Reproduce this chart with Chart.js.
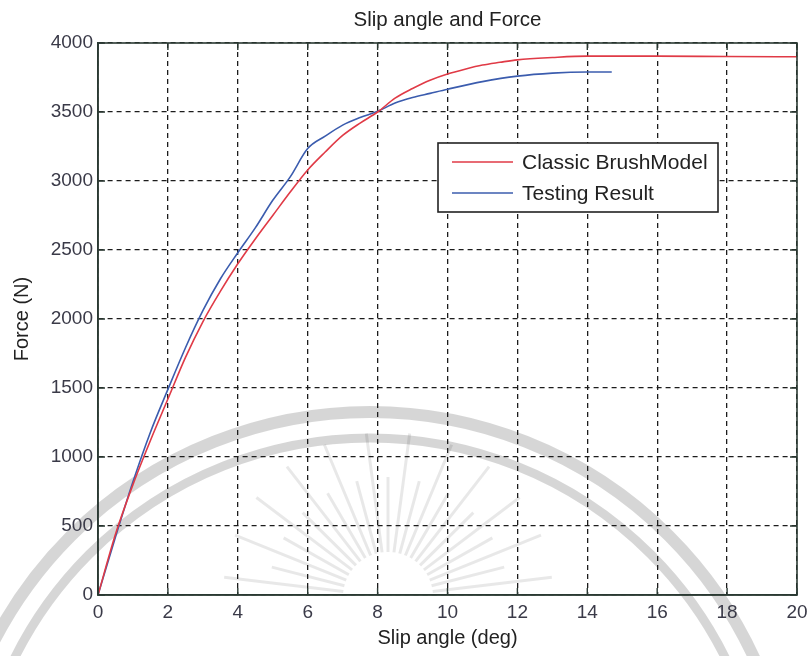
<!DOCTYPE html>
<html>
<head>
<meta charset="utf-8">
<title>Slip angle and Force</title>
<script src="https://cdn.jsdelivr.net/npm/chart.js@4/dist/chart.umd.min.js"></script>
<style>
  html, body { margin: 0; padding: 0; background: #fff; }
  #wrap { width: 807px; height: 656px; }
</style>
</head>
<body>
<div id="wrap"><canvas id="forceChart" width="807" height="656"></canvas></div>
<script>
// Classic brush model curve
const brushSlip  = [0, 0.5, 1, 1.5, 2, 2.5, 3, 3.5, 4, 4.5, 5, 5.5, 6, 6.5, 7, 7.5, 8, 8.5, 9, 9.5, 10, 10.5, 11, 11.5, 12, 13, 14, 16, 18, 20];
const brushForce = [0, 440, 800, 1120, 1420, 1720, 1980, 2200, 2400, 2580, 2750, 2920, 3080, 3210, 3330, 3420, 3500, 3600, 3670, 3730, 3775, 3810, 3840, 3860, 3878, 3895, 3905, 3905, 3902, 3900];

// Measured curve
const testSlip  = [0, 0.5, 1, 1.5, 2, 2.5, 3, 3.5, 4, 4.5, 5, 5.5, 6, 6.5, 7, 7.5, 8, 8.5, 9, 9.5, 10, 11, 12, 13, 14, 14.7];
const testForce = [0, 420, 820, 1180, 1490, 1790, 2060, 2290, 2480, 2660, 2860, 3030, 3235, 3325, 3405, 3460, 3505, 3565, 3605, 3635, 3665, 3720, 3760, 3782, 3790, 3790];

const seriesNames = ['Classic BrushModel', 'Testing Result'];
const xTicks = [0, 2, 4, 6, 8, 10, 12, 14, 16, 18, 20];
const yTicks = [0, 500, 1000, 1500, 2000, 2500, 3000, 3500, 4000];
const chartTitle = 'Slip angle and Force';

const FONT = '"Liberation Sans", Arial, sans-serif';
const AXIS_COLOR = '#2b3a33';

function toPoints(xs, ys) {
  return xs.map((x, i) => ({ x: x, y: ys[i] }));
}

// faint emblem behind the plot: two arcs and a fan of rays
const backdrop = {
  id: 'backdrop',
  beforeDraw(chart) {
    const ctx = chart.ctx;
    ctx.save();
    ctx.fillStyle = '#fff';
    ctx.fillRect(0, 0, chart.width, chart.height);
    ctx.strokeStyle = 'rgba(0,0,0,0.16)';
    ctx.lineWidth = 12;
    ctx.beginPath();
    ctx.arc(370, 835, 423, Math.PI, 2 * Math.PI);
    ctx.stroke();
    ctx.lineWidth = 9;
    ctx.beginPath();
    ctx.arc(370, 835, 397, Math.PI, 2 * Math.PI);
    ctx.stroke();
    ctx.strokeStyle = 'rgba(0,0,0,0.09)';
    ctx.lineWidth = 3;
    for (let i = 0; i <= 22; i++) {
      const a = Math.PI + 0.12 + i * (Math.PI - 0.24) / 22;
      const r2 = i % 2 ? 120 : 165;
      ctx.beginPath();
      ctx.moveTo(388 + 45 * Math.cos(a), 597 + 45 * Math.sin(a));
      ctx.lineTo(388 + r2 * Math.cos(a), 597 + r2 * Math.sin(a));
      ctx.stroke();
    }
    ctx.restore();
  }
};

// full box with inward tick marks on all four sides, title centred over the axes
const frame = {
  id: 'frame',
  afterDatasetsDraw(chart) {
    const { ctx, chartArea: a, scales } = chart;
    ctx.save();
    ctx.strokeStyle = AXIS_COLOR;
    ctx.lineWidth = 1.6;
    ctx.strokeRect(a.left, a.top, a.right - a.left, a.bottom - a.top);
    ctx.lineWidth = 1.4;
    const len = 7;
    ctx.beginPath();
    scales.x.ticks.forEach(t => {
      const px = scales.x.getPixelForValue(t.value);
      ctx.moveTo(px, a.bottom); ctx.lineTo(px, a.bottom - len);
      ctx.moveTo(px, a.top); ctx.lineTo(px, a.top + len);
    });
    scales.y.ticks.forEach(t => {
      const py = scales.y.getPixelForValue(t.value);
      ctx.moveTo(a.left, py); ctx.lineTo(a.left + len, py);
      ctx.moveTo(a.right, py); ctx.lineTo(a.right - len, py);
    });
    ctx.stroke();

    ctx.fillStyle = '#222';
    ctx.font = '20.5px ' + FONT;
    ctx.textAlign = 'center';
    ctx.textBaseline = 'middle';
    ctx.fillText(chartTitle, (a.left + a.right) / 2, a.top - 23);
    ctx.restore();
  }
};

// boxed legend inside the plot area
const boxLegend = {
  id: 'boxLegend',
  afterDraw(chart) {
    const { ctx, chartArea: a } = chart;
    const left = a.left + 340, top = a.top + 100, w = 280, h = 69;
    ctx.save();
    ctx.fillStyle = '#fff';
    ctx.fillRect(left, top, w, h);
    ctx.strokeStyle = '#222';
    ctx.lineWidth = 1.6;
    ctx.strokeRect(left, top, w, h);
    ctx.font = '21px ' + FONT;
    ctx.textBaseline = 'middle';
    ctx.fillStyle = '#222';
    chart.data.datasets.forEach((ds, i) => {
      const y = top + 19 + i * 31;
      ctx.strokeStyle = ds.borderColor;
      ctx.lineWidth = 1.6;
      ctx.beginPath();
      ctx.moveTo(left + 14, y);
      ctx.lineTo(left + 75, y);
      ctx.stroke();
      ctx.fillText(ds.label, left + 84, y + 1);
    });
    ctx.restore();
  }
};

const gridOpts = {
  color: '#1c1c1c',
  lineWidth: 1.3,
  drawTicks: false
};

const plain = v => String(v);

new Chart(document.getElementById('forceChart'), {
  type: 'line',
  data: {
    datasets: [
      {
        label: seriesNames[0],
        data: toPoints(brushSlip, brushForce),
        borderColor: '#e03a46',
        borderWidth: 1.6,
        pointRadius: 0,
        cubicInterpolationMode: 'monotone',
        fill: false
      },
      {
        label: seriesNames[1],
        data: toPoints(testSlip, testForce),
        borderColor: '#3b5cae',
        borderWidth: 1.6,
        pointRadius: 0,
        cubicInterpolationMode: 'monotone',
        fill: false
      }
    ]
  },
  options: {
    responsive: false,
    animation: false,
    devicePixelRatio: 1,
    layout: { padding: { left: 0, right: 10, top: 43, bottom: 0 } },
    plugins: {
      legend: { display: false },
      tooltip: { enabled: false },
      title: { display: false }
    },
    scales: {
      x: {
        type: 'linear',
        min: 0,
        max: 20,
        afterBuildTicks(scale) { scale.ticks = xTicks.map(v => ({ value: v })); },
        afterFit(scale) {
          scale.height = 61;
          scale.paddingLeft = 0;
          scale.paddingRight = 0;
        },
        grid: gridOpts,
        border: { display: true, color: AXIS_COLOR, width: 1.6, dash: [5, 4] },
        ticks: { color: '#3a3a48', font: { family: FONT, size: 19 }, padding: 6, maxRotation: 0, callback: plain },
        title: {
          display: true,
          text: 'Slip angle (deg)',
          color: '#222',
          font: { family: FONT, size: 20 },
          padding: { top: 0, bottom: 6 }
        }
      },
      y: {
        type: 'linear',
        min: 0,
        max: 4000,
        afterBuildTicks(scale) { scale.ticks = yTicks.map(v => ({ value: v })); },
        afterFit(scale) { scale.width = 98; },
        grid: gridOpts,
        border: { display: true, color: AXIS_COLOR, width: 1.6, dash: [5, 4] },
        ticks: { color: '#3a3a48', font: { family: FONT, size: 19 }, padding: 5, callback: plain },
        title: {
          display: true,
          text: 'Force (N)',
          color: '#222',
          font: { family: FONT, size: 20 },
          padding: { top: 10, bottom: 0 }
        }
      }
    }
  },
  plugins: [backdrop, frame, boxLegend]
});
</script>
</body>
</html>
